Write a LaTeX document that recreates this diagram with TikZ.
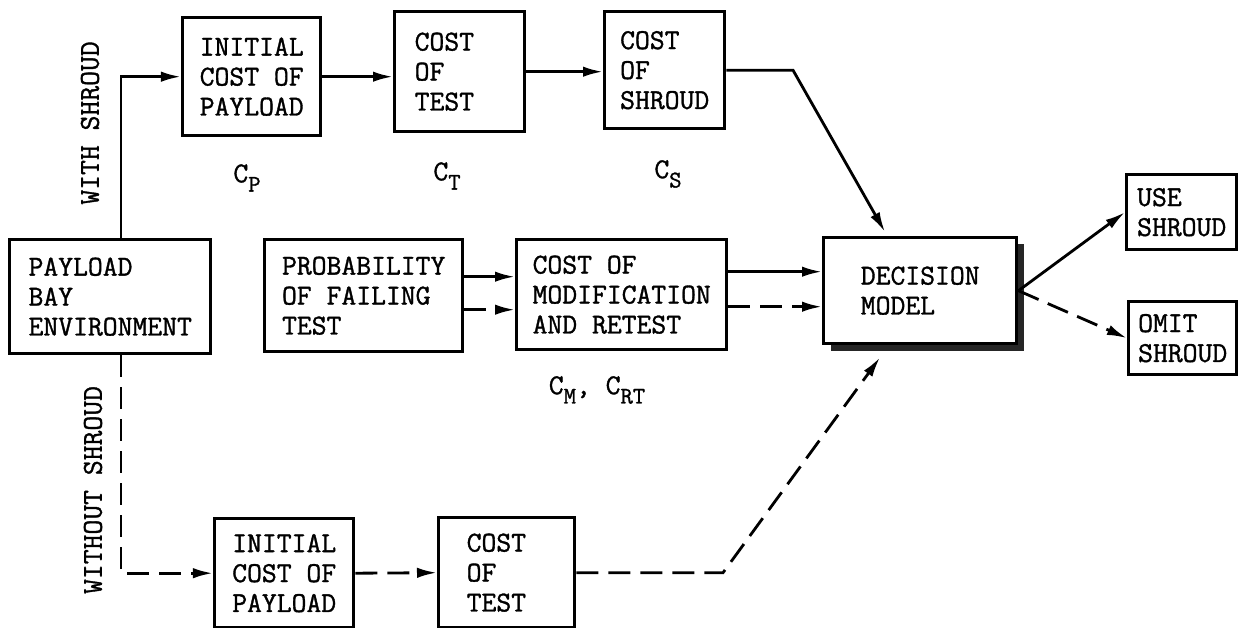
\documentclass[tikz,border=0pt]{standalone}
\usepackage{fontspec}
\usetikzlibrary{arrows.meta,shadows}

\newfontfamily\typefont{Latin Modern Mono}[FakeBold=1.2]
\newcommand{\lowsub}[1]{\raisebox{-0.75ex}{\fontsize{17}{17}\selectfont #1}}

\begin{document}
\begin{tikzpicture}[x=0.025cm, y=-0.025cm, >={Latex[length=0.5cm,width=0.26cm]},
    block/.style={draw, line width=2.4pt, anchor=north west, align=left, inner sep=0pt,
        font=\fontsize{20.5}{21.3}\typefont},
    lbl/.style={font=\fontsize{20.5}{21.3}\typefont},
    flow/.style={->, line width=2pt},
    dashflow/.style={flow, dash pattern=on 0.55cm off 0.25cm}]
    \useasboundingbox (0,0) rectangle (1242,628);

    % boxes, upper branch (with shroud)
    \node[block, minimum width=3.45cm, minimum height=2.95cm] (init1) at (181,16) {INITIAL\\COST OF\\PAYLOAD};
    \node[block, minimum width=3.25cm, minimum height=3cm, text width=2.25cm] (test1) at (393,10) {COST\\OF\\TEST};
    \node[block, minimum width=3cm, minimum height=2.925cm] (shroud) at (603,10) {COST\\OF\\SHROUD};

    % middle row
    \node[block, minimum width=5.025cm, minimum height=2.85cm] (bay) at (8,238) {PAYLOAD\\BAY\\ENVIRONMENT};
    \node[block, minimum width=4.95cm, minimum height=2.8cm] (prob) at (263,238) {PROBABILITY\\OF FAILING\\TEST};
    \node[block, minimum width=5.25cm, minimum height=2.75cm] (modif) at (515,238) {COST OF\\MODIFICATION\\AND RETEST};
    \node[block, fill=white, drop shadow={shadow xshift=0.17cm, shadow yshift=-0.17cm, fill=black, opacity=0.85},
        minimum width=4.825cm, minimum height=2.65cm] (decision) at (822,236) {DECISION\\MODEL};
    \node[block, minimum width=2.75cm, minimum height=1.875cm] (use) at (1125,173) {USE\\SHROUD};
    \node[block, minimum width=2.7cm, minimum height=1.825cm] (omit) at (1127,300) {OMIT\\SHROUD};

    % lower branch (without shroud)
    \node[block, minimum width=3.475cm, minimum height=2.725cm] (init2) at (213,517) {INITIAL\\COST OF\\PAYLOAD};
    \node[block, minimum width=3.4cm, minimum height=2.75cm, text width=2cm] (test2) at (437,516) {COST\\OF\\TEST};

    % labels
    \node[lbl, rotate=90] (withlbl) at (90,123) {WITH SHROUD};
    \node[lbl, rotate=90] (withoutlbl) at (93,490) {WITHOUT SHROUD};
    \node[lbl] (cp) at (247,178) {C\lowsub{P}};
    \node[lbl] (ct) at (447,176) {C\lowsub{T}};
    \node[lbl] (cs) at (668,174) {C\lowsub{S}};
    \node[lbl] (cmrt) at (597,390) {C\lowsub{M}, C\lowsub{RT}};

    % bend points
    \coordinate (wbend) at (121,0);
    \coordinate (sbend) at (793,0);
    \coordinate (tbend) at (723,0);

    % connectors
    \draw[flow] (bay.north -| wbend) |- (init1.west);
    \draw[dashflow] (bay.south -| wbend) |- (init2.west);
    \draw[flow] (init1.east) -- (init1.east -| test1.west);
    \draw[flow] (test1.east) -- (test1.east -| shroud.west);
    \draw[flow] (shroud.east) -- (shroud.east -| sbend) -- ([xshift=1.575cm,yshift=0.1cm]decision.north west);
    \draw[flow] ([yshift=0.475cm]prob.east) -- ([yshift=0.475cm]prob.east -| modif.west);
    \draw[dashflow] ([yshift=-0.35cm]prob.east) -- ([yshift=-0.35cm]prob.east -| modif.west);
    \draw[flow] ([yshift=0.575cm]modif.east) -- ([yshift=0.575cm]modif.east -| decision.west);
    \draw[dashflow] ([yshift=-0.3cm]modif.east) -- ([yshift=-0.3cm]modif.east -| decision.west);
    \draw[flow] (decision.east) -- (use.west);
    \draw[dashflow] (decision.east) -- (omit.west);
    \draw[dashflow] (init2.east) -- (test2.west);
    \draw[dashflow] (test2.east) -- (test2.east -| tbend) -- ([xshift=1.45cm,yshift=-0.3cm]decision.south west);
\end{tikzpicture}
\end{document}
